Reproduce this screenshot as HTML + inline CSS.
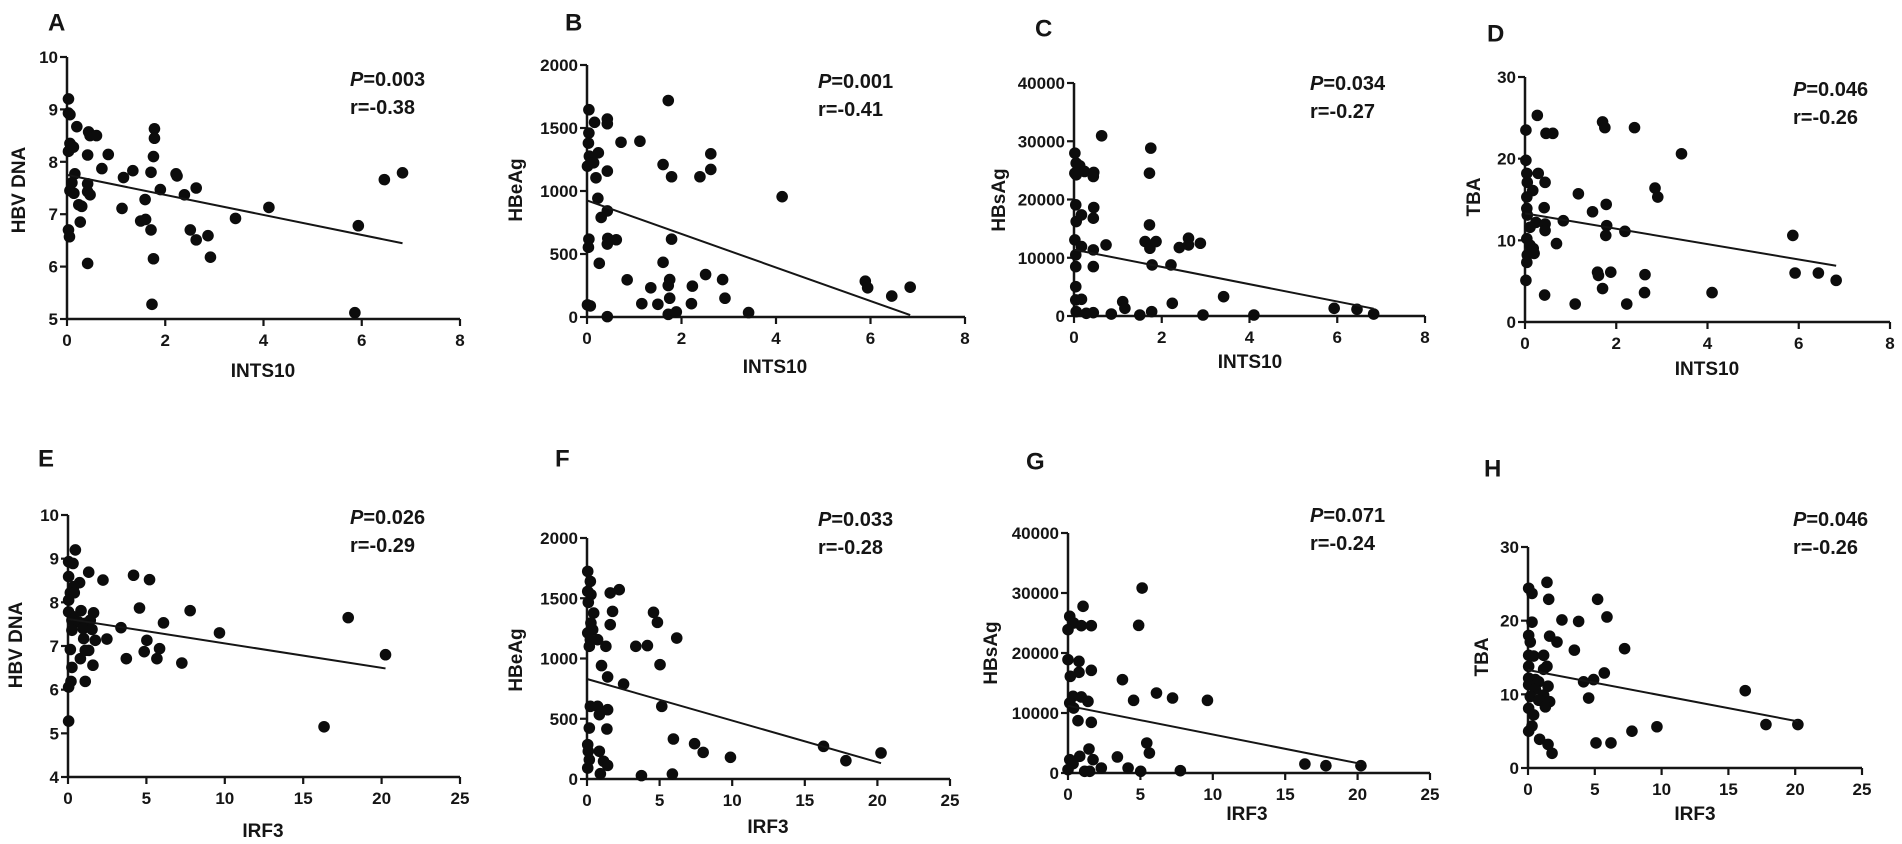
<!DOCTYPE html>
<html><head><meta charset="utf-8">
<style>
html,body{margin:0;padding:0;background:#fff;}
svg{display:block;font-family:"Liberation Sans",Arial,sans-serif;}
</style></head>
<body>
<svg id="fig" width="1902" height="844" viewBox="0 0 1902 844" xmlns="http://www.w3.org/2000/svg"></svg>
<script>
// ---- Panel A: INTS10 vs HBV DNA ----
const aX=[0.03,0.03,0.06,0.2,0.44,0.47,0.6,0.06,0.1,0.03,0.13,0.42,0.84,0.71,0.16,0.1,0.06,0.14,0.42,0.42,0.47,0.24,0.3,0.27,0.03,0.05,0.42,1.12,1.15,1.34,1.71,1.78,1.78,1.76,1.9,1.59,1.5,1.6,1.71,1.76,1.73,2.22,2.24,2.39,2.63,2.51,2.63,2.87,2.92,3.43,4.11,5.93,5.86,6.46,6.83];
const aY=[9.2,8.93,8.9,8.67,8.57,8.5,8.5,8.35,8.3,8.2,8.28,8.13,8.14,7.87,7.77,7.6,7.45,7.4,7.58,7.43,7.37,7.18,7.15,6.85,6.7,6.57,6.06,7.11,7.7,7.83,7.8,8.63,8.45,8.1,7.47,7.28,6.87,6.9,6.7,6.15,5.28,7.77,7.73,7.37,7.5,6.7,6.51,6.59,6.18,6.92,7.13,6.78,5.12,7.66,7.79];
// ---- Panel B: INTS10 vs HBeAg ----
const bX=[0.04,0.16,0.04,0.03,0.43,0.43,0.72,1.12,1.72,0.24,0.05,0.08,0.01,0.14,0.19,0.43,0.23,0.43,0.3,1.61,1.79,2.39,2.62,2.62,4.13,0.04,0.03,0.44,0.43,0.62,0.26,1.79,1.61,0.85,1.35,1.75,1.72,2.23,2.51,2.87,5.89,5.94,6.84,6.45,0.01,0.07,1.16,1.5,1.75,2.21,2.92,0.43,1.72,1.89,3.42];
const bY=[1645,1545,1460,1380,1571,1534,1387,1395,1718,1303,1276,1224,1197,1224,1105,1158,942,842,790,1210,1113,1113,1295,1171,955,618,553,624,579,613,426,618,434,295,232,297,250,245,337,297,284,232,237,166,96,88,106,101,149,106,149,3,21,40,35];
// ---- Panel C: INTS10 vs HBsAg ----
const cX=[0.02,0.05,0.13,0.02,0.05,0.24,0.45,0.44,0.63,1.75,1.72,0.04,0.45,0.44,0.17,0.05,1.72,0.02,0.17,0.44,0.73,1.62,1.73,1.87,2.61,2.61,2.4,2.88,0.04,0.04,0.44,1.78,2.21,0.04,0.04,0.17,3.41,1.11,1.16,2.24,0.05,0.28,0.44,0.85,1.5,1.77,2.94,4.1,5.93,6.45,6.83];
const cY=[27960,26240,25790,24520,24240,24810,24640,23950,30940,28820,24520,19080,18620,16790,17360,16220,15640,13060,11920,11350,12200,12780,11630,12780,13350,12200,11750,12490,10490,8480,8480,8770,8770,5040,2750,2870,3320,2460,1320,2180,745,460,570,340,170,745,170,170,1320,1150,340];
// ---- Panel D: INTS10 vs TBA ----
const dX=[0.27,0.02,0.46,0.61,1.7,1.75,2.4,3.43,0.02,0.04,0.29,0.44,0.05,0.17,0.04,1.17,2.85,2.91,1.78,0.04,0.42,1.48,0.05,0.84,1.79,0.24,0.44,0.11,0.44,2.19,1.77,0.04,0.69,0.11,0.18,0.05,0.2,0.04,5.87,0.02,1.59,1.88,1.61,2.63,1.7,5.92,6.43,6.82,0.43,2.62,4.1,1.1,2.23];
const dY=[25.3,23.5,23.1,23.1,24.5,23.8,23.8,20.6,19.8,18.2,18.2,17.1,17.1,16.1,15.3,15.7,16.4,15.3,14.4,13.9,14,13.5,13.1,12.4,11.8,12.2,12,11.6,11.2,11.1,10.6,10.2,9.6,9.4,9,8.2,8.4,7.3,10.6,5.1,6.1,6.1,5.7,5.8,4.1,6,6,5.1,3.3,3.6,3.6,2.2,2.2];
// ---- Panel E: IRF3 vs HBV DNA ----
const eX=[0.47,0.04,0.32,0.04,0.74,1.32,2.23,4.18,5.2,0.36,0.15,0.4,0.04,4.56,7.79,0.04,0.83,0.36,1.63,17.87,0.25,0.68,1.1,1.42,6.09,0.96,1.53,3.38,0.25,9.66,1.0,1.74,2.48,5.03,1.32,0.15,1.1,4.86,5.84,0.79,3.72,5.67,1.59,0.25,7.26,20.25,0.19,1.1,0.04,0.04,16.33];
const eY=[9.2,8.93,8.89,8.59,8.45,8.69,8.51,8.62,8.52,8.36,8.22,8.22,8.05,7.87,7.81,7.78,7.81,7.67,7.76,7.65,7.59,7.55,7.52,7.59,7.53,7.4,7.38,7.42,7.36,7.3,7.17,7.13,7.16,7.13,6.9,6.92,6.9,6.87,6.94,6.71,6.71,6.71,6.56,6.51,6.61,6.8,6.19,6.19,6.06,5.28,5.15];
// ---- Panel F: IRF3 vs HBeAg ----
const fX=[0.05,0.23,0.05,0.27,0.09,1.6,2.22,1.76,0.46,4.58,4.85,1.6,0.27,0.39,0.05,0.23,0.73,0.16,1.3,3.36,4.16,6.18,5.03,1.0,1.42,2.52,0.23,0.73,0.85,1.42,5.15,0.16,1.37,5.95,7.41,8.0,9.88,16.29,17.83,20.25,0.05,0.09,0.16,0.05,0.85,1.14,1.42,0.92,3.75,5.88];
const fY=[1723,1640,1557,1530,1466,1544,1571,1391,1377,1383,1300,1281,1295,1239,1212,1156,1156,1101,1101,1101,1107,1170,949,941,847,788,603,603,534,575,603,423,415,332,293,221,180,271,152,216,285,230,160,91,230,147,113,44,28,41];
// ---- Panel G: IRF3 vs HBsAg ----
const gX=[0.12,0.39,0,1.04,0.92,1.61,5.12,4.88,0,0.76,0.76,0.16,1.61,3.76,0.35,0.92,1.38,0.12,0.39,4.53,6.11,7.22,9.63,0.69,1.61,5.44,5.62,1.45,3.41,0.81,1.73,0.12,0.35,2.3,4.15,1.15,1.5,5.02,7.76,0,16.36,17.81,20.23];
const gY=[26110,25000,23890,27780,24560,24560,30830,24610,18890,18610,16780,16110,17110,15560,12780,12670,11940,11670,10830,12110,13330,12500,12110,8720,8440,5000,3330,4000,2670,2780,2220,2220,1560,830,830,280,280,280,390,560,1500,1220,1220];
// ---- Panel H: IRF3 vs TBA ----
const hX=[0.05,0.3,1.42,1.55,5.21,5.91,2.54,3.79,0.3,0.05,1.62,0.17,2.17,3.47,7.23,0.05,0.42,1.17,0.05,1.42,1.17,5.71,0.05,0.55,0.8,4.16,4.91,0.05,1.5,0.55,16.26,1.17,0.17,4.54,0.8,1.62,0.05,1.3,0.42,17.81,20.2,9.65,7.78,0.05,0.3,0.87,1.5,1.8,5.09,6.21];
const hY=[24.4,23.7,25.2,22.9,22.9,20.5,20.1,19.9,19.8,18,17.9,17.1,17.1,16,16.2,15.3,15.2,15.3,13.8,13.8,13.4,12.9,12.2,12,11.7,11.7,12,11.3,11.1,10.7,10.5,9.9,9.7,9.5,9.2,9.0,8.1,8.3,7.2,5.9,5.9,5.6,5.0,5.0,5.7,3.9,3.2,2.0,3.4,3.4];
// regression fits: intercepts, slopes and x-extent (A..H)
const fitIntercept=[7.75,925,11400,13.3,7.62,830,11200,13.3];
const fitSlope=[-0.191,-133,-1485,-0.94,-0.056,-34.5,-478,-0.345];
const fitXmax=[6.83,6.84,6.83,6.82,20.25,20.25,20.23,20.2];
// annotations
const panelLetters=["A","B","C","D","E","F","G","H"];
const pValues=["0.003","0.001","0.034","0.046","0.026","0.033","0.071","0.046"];
const rValues=["-0.38","-0.41","-0.27","-0.26","-0.29","-0.28","-0.24","-0.26"];
const yTitles=["HBV DNA","HBeAg","HBsAg","TBA","HBV DNA","HBeAg","HBsAg","TBA"];
const xTitles=["INTS10","INTS10","INTS10","INTS10","IRF3","IRF3","IRF3","IRF3"];
const yTicksA=[5,6,7,8,9,10], yTicksB=[0,500,1000,1500,2000], yTicksC=[0,10000,20000,30000,40000], yTicksD=[0,10,20,30], yTicksE=[4,5,6,7,8,9,10];
const xTicksTop=[0,2,4,6,8], xTicksBot=[0,5,10,15,20,25];

// layout (pixel geometry)
const layout=[
 {x0:67,x1:460,y0:319,y1:57,ymin:5,ymax:10,xmax:8,L:[48,24],P:[350,86],Y:[20,190],X:[263,372]},
 {x0:587,x1:965,y0:317,y1:65,ymin:0,ymax:2000,xmax:8,L:[565,24],P:[818,88],Y:[517,190],X:[775,368]},
 {x0:1074,x1:1425,y0:316,y1:83,ymin:0,ymax:40000,xmax:8,L:[1035,30],P:[1310,90],Y:[1000,200],X:[1250,363]},
 {x0:1525,x1:1890,y0:322,y1:77,ymin:0,ymax:30,xmax:8,L:[1487,35],P:[1793,96],Y:[1475,197],X:[1707,370]},
 {x0:68,x1:460,y0:777,y1:515,ymin:4,ymax:10,xmax:25,L:[38,460],P:[350,524],Y:[17,645],X:[263,832]},
 {x0:587,x1:950,y0:779,y1:538,ymin:0,ymax:2000,xmax:25,L:[555,460],P:[818,526],Y:[517,660],X:[768,828]},
 {x0:1068,x1:1430,y0:773,y1:533,ymin:0,ymax:40000,xmax:25,L:[1026,463],P:[1310,522],Y:[992,653],X:[1247,815]},
 {x0:1528,x1:1862,y0:768,y1:547,ymin:0,ymax:30,xmax:25,L:[1484,470],P:[1793,526],Y:[1483,657],X:[1695,815]}
];
const datasets=[[aX,aY],[bX,bY],[cX,cY],[dX,dY],[eX,eY],[fX,fY],[gX,gY],[hX,hY]];
const yTickSets=[yTicksA,yTicksB,yTicksC,yTicksD,yTicksE,yTicksB,yTicksC,yTicksD];
const xTickSets=[xTicksTop,xTicksTop,xTicksTop,xTicksTop,xTicksBot,xTicksBot,xTicksBot,xTicksBot];

const NS="http://www.w3.org/2000/svg";
const svg=document.getElementById('fig');
function mk(tag,parent){const e=document.createElementNS(NS,tag);parent.appendChild(e);return e;}
const INK="#151515";

for(let i=0;i<8;i++){
  const g=layout[i];
  const sx=v=>g.x0+(v/g.xmax)*(g.x1-g.x0);
  const sy=v=>g.y0-(v-g.ymin)/(g.ymax-g.ymin)*(g.y0-g.y1);
  const grp=mk('g',svg);
  
  

  const lt=mk('text',grp);
  
  
  lt.setAttribute('x',g.L[0]);lt.setAttribute('y',g.L[1]);
  lt.setAttribute('font-size','24');lt.setAttribute('font-weight','bold');lt.setAttribute('fill',INK);
  lt.setAttribute('dominant-baseline','middle');
  lt.textContent=panelLetters[i];

  const ya=mk('line',grp);
  
  
  ya.setAttribute('x1',g.x0);ya.setAttribute('x2',g.x0);ya.setAttribute('y1',g.y1);ya.setAttribute('y2',g.y0+1);
  ya.setAttribute('stroke',INK);ya.setAttribute('stroke-width','2.5');
  const xa=mk('line',grp);
  
  
  xa.setAttribute('x1',g.x0-1);xa.setAttribute('x2',g.x1);xa.setAttribute('y1',g.y0);xa.setAttribute('y2',g.y0);
  xa.setAttribute('stroke',INK);xa.setAttribute('stroke-width','2.5');

  yTickSets[i].forEach(t=>{
    const y=sy(t);
    const tk=mk('line',grp);
    
    
    tk.setAttribute('x1',g.x0-7);tk.setAttribute('x2',g.x0);tk.setAttribute('y1',y);tk.setAttribute('y2',y);
    tk.setAttribute('stroke',INK);tk.setAttribute('stroke-width','2.2');
    const tl=mk('text',grp);
    
    
    tl.setAttribute('x',g.x0-9);tl.setAttribute('y',y+6);
    tl.setAttribute('text-anchor','end');tl.setAttribute('font-size','17');tl.setAttribute('font-weight','bold');tl.setAttribute('fill',INK);
    tl.textContent=t;
  });
  xTickSets[i].forEach(t=>{
    const x=sx(t);
    const tk=mk('line',grp);
    
    
    tk.setAttribute('x1',x);tk.setAttribute('x2',x);tk.setAttribute('y1',g.y0);tk.setAttribute('y2',g.y0+7);
    tk.setAttribute('stroke',INK);tk.setAttribute('stroke-width','2.2');
    const tl=mk('text',grp);
    
    
    tl.setAttribute('x',x);tl.setAttribute('y',g.y0+27);
    tl.setAttribute('text-anchor','middle');tl.setAttribute('font-size','17');tl.setAttribute('font-weight','bold');tl.setAttribute('fill',INK);
    tl.textContent=t;
  });

  const yt=mk('text',grp);
  
  
  yt.setAttribute('x',g.Y[0]);yt.setAttribute('y',g.Y[1]);
  yt.setAttribute('transform','rotate(-90 '+g.Y[0]+' '+g.Y[1]+')');
  yt.setAttribute('text-anchor','middle');yt.setAttribute('dominant-baseline','middle');
  yt.setAttribute('font-size','19');yt.setAttribute('font-weight','bold');yt.setAttribute('fill',INK);
  yt.textContent=yTitles[i];

  const xt=mk('text',grp);
  
  
  xt.setAttribute('x',g.X[0]);xt.setAttribute('y',g.X[1]);
  xt.setAttribute('text-anchor','middle');xt.setAttribute('dominant-baseline','middle');
  xt.setAttribute('font-size','19');xt.setAttribute('font-weight','bold');xt.setAttribute('fill',INK);
  xt.textContent=xTitles[i];

  const pt=mk('text',grp);
  
  
  pt.setAttribute('x',g.P[0]);pt.setAttribute('y',g.P[1]);
  pt.setAttribute('font-size','20');pt.setAttribute('font-weight','bold');pt.setAttribute('fill',INK);
  const pi=mk('tspan',pt);pi.setAttribute('font-style','italic');pi.textContent='P';
  const pv=mk('tspan',pt);pv.textContent='='+pValues[i];
  const rt=mk('text',grp);
  
  
  rt.setAttribute('x',g.P[0]);rt.setAttribute('y',g.P[1]+28);
  rt.setAttribute('font-size','20');rt.setAttribute('font-weight','bold');rt.setAttribute('fill',INK);
  rt.textContent='r='+rValues[i];

  const [xs,ys]=datasets[i];
  for(let k=0;k<xs.length;k++){
    const c=mk('circle',grp);
    
    
    c.setAttribute('cx',sx(xs[k]));c.setAttribute('cy',sy(ys[k]));c.setAttribute('r','5.8');c.setAttribute('fill','#0c0c0c');
  }

  const fl=mk('line',grp);
  
  
  fl.setAttribute('x1',sx(0));fl.setAttribute('y1',sy(fitIntercept[i]));
  fl.setAttribute('x2',sx(fitXmax[i]));fl.setAttribute('y2',sy(fitIntercept[i]+fitSlope[i]*fitXmax[i]));
  fl.setAttribute('stroke',INK);fl.setAttribute('stroke-width','2');
}
</script>
</body></html>
